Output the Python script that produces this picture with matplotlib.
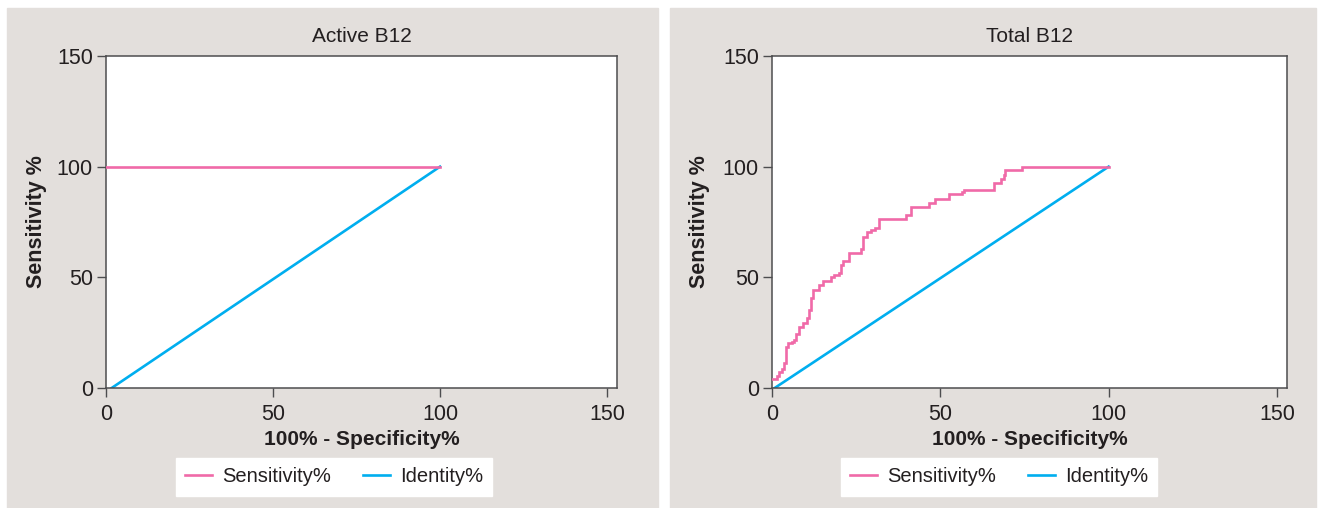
import matplotlib

matplotlib.use("Agg")
import matplotlib.pyplot as plt
from matplotlib.patches import Rectangle

plt.rcParams["font.family"] = ["Liberation Sans", "DejaVu Sans"]

PINK = "#f06aa8"
BLUE = "#00aeef"
PANEL = "#e3dfdc"
INK = "#231f20"
SPINE = "#4d4d4f"

titles = ["Active B12", "Total B12"]
x_label = "100% - Specificity%"
y_label = "Sensitivity %"
legend_labels = ["Sensitivity%", "Identity%"]
ticks = [0, 50, 100, 150]

# Active B12: perfect classifier
active_fpr = [0, 100]
active_sens = [100, 100]
active_identity_x = [1.7, 100]
active_identity_y = [0, 100]

# Total B12: stepped ROC curve (value after each step)
total_fpr = [0.1, 1.4, 2.1, 2.9, 3.6, 4.2, 4.8, 5.9, 6.5, 7.1, 8.0, 9.1, 10.3, 11.0,
             11.6, 12.3, 14.0, 15.1, 17.5, 18.5, 19.9, 20.5, 21.2, 23.0, 26.5, 27.0,
             28.2, 29.5, 30.7, 31.8, 39.8, 41.4, 46.7, 48.3, 52.5, 56.5, 56.9, 65.9,
             67.9, 68.8, 69.3, 74.3, 100]
total_sens = [4.0, 5.4, 7.3, 8.4, 11.1, 18.6, 20.2, 20.6, 21.6, 24.2, 27.6, 29.4, 31.7,
              35.4, 40.7, 44.4, 46.4, 48.2, 50.2, 51.2, 52.1, 55.4, 57.4, 61.1, 62.6,
              68.2, 70.7, 71.5, 72.2, 76.4, 78.2, 82.0, 83.5, 85.4, 87.7, 88.4, 89.5,
              92.6, 94.4, 96.4, 98.5, 100, 100]
total_identity_x = [0.8, 100]
total_identity_y = [0, 100]

W, H = 1321, 508
fig = plt.figure(figsize=(W / 100, H / 100), dpi=100)
fig.patch.set_facecolor("white")

# (panel x0, panel x1, axes left, axes right, legend centre) in pixels
layout = [(7, 658, 106, 617, 334), (670, 1316, 772, 1287, 999)]
series = [
    (active_fpr, active_sens, "default", active_identity_x, active_identity_y),
    (total_fpr, total_sens, "steps-post", total_identity_x, total_identity_y),
]

for (x0, x1, left, right, legend_cx), (sx, sy, style, ix, iy), title in zip(layout, series, titles):
    # grey panel behind the chart
    fig.patches.append(Rectangle((x0 / W, 0), (x1 - x0) / W, (H - 8) / H,
                                 transform=fig.transFigure, color=PANEL, zorder=-5))

    ax = fig.add_axes([left / W, (H - 388) / H, (right - left) / W, (388 - 56) / H])
    ax.set_facecolor("white")
    ax.plot(sx, sy, color=PINK, lw=1.9, drawstyle=style, label=legend_labels[0],
            solid_joinstyle="miter", zorder=3)
    ax.plot(ix, iy, color=BLUE, lw=1.9, label=legend_labels[1], zorder=2)
    ax.set_xlim(0, 153)
    ax.set_ylim(0, 150)
    ax.set_xticks(ticks)
    ax.set_yticks(ticks)
    for spine in ax.spines.values():
        spine.set_color(SPINE)
        spine.set_linewidth(1.1)
    ax.tick_params(direction="out", length=6.5, width=1.0, color=SPINE,
                   labelsize=15.5, labelcolor=INK, pad=3)
    ax.tick_params(axis="x", pad=5)

    ax.text(0.5, (388 - 42) / 332, title, transform=ax.transAxes, ha="center",
            va="baseline", fontsize=15, color=INK)
    ax.set_xlabel(x_label, fontsize=15, fontweight="bold", color=INK, va="baseline")
    ax.xaxis.set_label_coords(0.5, (388 - 445) / 332)
    ax.set_ylabel(y_label, fontsize=15.5, fontweight="bold", color=INK, va="center")
    ax.yaxis.set_label_coords((x0 + 29 - left) / (right - left), 0.5)

    fig.legend(*ax.get_legend_handles_labels(), loc="center",
               bbox_to_anchor=(legend_cx / W, 1 - 477 / H), ncol=2, fontsize=14.5,
               frameon=True, fancybox=False, framealpha=1, edgecolor="white",
               handlelength=1.35, handletextpad=0.5, columnspacing=1.6,
               borderpad=0.45, labelcolor=INK)

fig.savefig("out.png", dpi=100)
